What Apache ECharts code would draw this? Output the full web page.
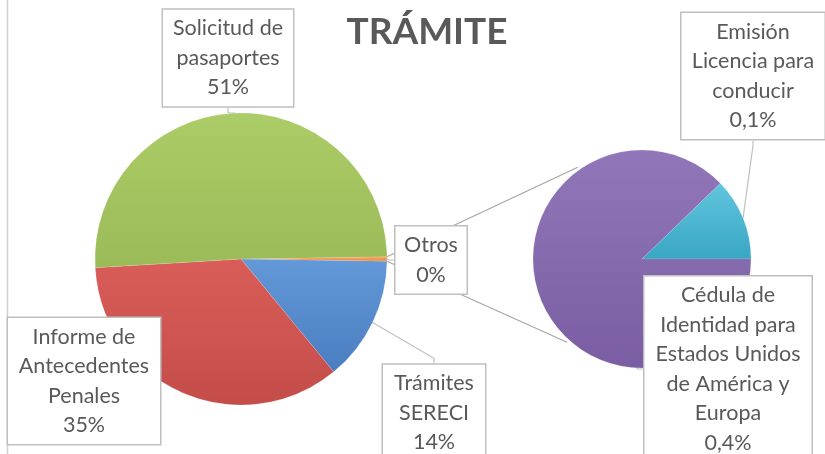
<!DOCTYPE html>
<html>
<head>
<meta charset="utf-8">
<script src="https://cdn.jsdelivr.net/npm/echarts@6/dist/echarts.min.js"></script>
<style>
  html, body { margin: 0; padding: 0; background: #fff; }
  #chart { width: 825px; height: 454px; }
</style>
</head>
<body>
<div id="chart"></div>
<script>
// datos (porcentaje del total)
const mainNames = ['Otros', 'Trámites\nSERECI', 'Informe de\nAntecedentes\nPenales', 'Solicitud de\npasaportes']
const mainValues = [null, 13.81, 35.0, 50.7]   // Otros = suma del segundo pastel
const subNames = ['Emisión\nLicencia para\nconducir', 'Cédula de\nIdentidad para\nEstados Unidos\nde América y\nEuropa']
const subValues = [0.06, 0.43]

const otros = subValues.reduce((a, b) => a + b, 0)
mainValues[0] = otros
const total = mainValues.reduce((a, b) => a + b, 0)

// geometría
const mainC = [241, 259], mainR = 146
const subC = [642, 259], subR = 109

const mainColors = ['#f08a3a', '#4a7dc0', '#c44d49', '#9bbb59']
const mainLight = ['#fba364', '#6399d8', '#d95d59', '#accc67']
const subColors = ['#38a6c4', '#7a5da2']
const subLight = ['#62c6de', '#9177ba']

// cajas de etiquetas: centro y ancho
const mainBoxes = [
    { x: 431, y: 260, w: 71 },
    { x: 434, y: 413, w: 102 },
    { x: 84, y: 381, w: 152 },
    { x: 228, y: 58, w: 130 }
]
const subBoxes = [
    { x: 753, y: 76, w: 143 },
    { x: 728, y: 369, w: 167 }
]

let grad = (c1, c2) => ({
    type: 'linear', x: 0, y: 0, x2: 0, y2: 1,
    colorStops: [{ offset: 0, color: c1 }, { offset: 1, color: c2 }]
})

let pct = (v) => Math.round(v / total * 100) + '%'
let pct1 = (v) => (v / total * 100).toFixed(1).replace('.', ',') + '%'

let labelBase = {
    show: true,
    position: 'outside',
    color: '#595959',
    fontFamily: 'Lato',
    fontSize: 21.5,
    lineHeight: 29.5,
    align: 'center',
    backgroundColor: '#fff',
    borderColor: '#bfbfbf',
    borderWidth: 1.5,
    padding: [4, 0, 4, 0]
}

let mainData = mainNames.map((n, i) => ({
    name: n,
    value: mainValues[i],
    itemStyle: { color: grad(mainLight[i], mainColors[i]) },
    label: { width: mainBoxes[i].w }
}))
let subData = subNames.map((n, i) => ({
    name: n,
    value: subValues[i],
    itemStyle: { color: grad(subLight[i], subColors[i]) },
    label: { width: subBoxes[i].w }
}))

// líneas de unión entre pasteles
let halfOtros = otros / total * 180
let rad = (d) => d * Math.PI / 180
let pt = (c, r, a) => [c[0] + r * Math.cos(rad(a)), c[1] - r * Math.sin(rad(a))]
let p1 = pt(mainC, mainR, halfOtros), p2 = pt(mainC, mainR, -halfOtros)
let q1 = pt(subC, subR + 3, 125), q2 = pt(subC, subR + 3, 228)

let option = {
    animation: false,
    title: {
        text: 'TRÁMITE',
        left: 422,
        top: 9,
        textAlign: 'center',
        textStyle: { fontFamily: 'Lato', fontWeight: 'bold', fontSize: 37, color: '#595959' }
    },
    graphic: [
        { type: 'line', z: 0, shape: { x1: 7.5, y1: 0, x2: 7.5, y2: 454 }, style: { stroke: '#d0d0d0', lineWidth: 1.5 } },
        { type: 'line', z: 0, shape: { x1: p1[0], y1: p1[1], x2: q1[0], y2: q1[1] }, style: { stroke: '#a6a6a6', lineWidth: 1.2 } },
        { type: 'line', z: 0, shape: { x1: p2[0], y1: p2[1], x2: q2[0], y2: q2[1] }, style: { stroke: '#a6a6a6', lineWidth: 1.2 } }
    ],
    series: [
        {
            type: 'pie',
            center: mainC,
            radius: mainR,
            startAngle: halfOtros,
            clockwise: true,
            minAngle: 0,
            avoidLabelOverlap: false,
            itemStyle: { borderColor: 'rgba(255,255,255,0.25)', borderWidth: 0.5 },
            label: Object.assign({}, labelBase, {
                formatter: (p) => p.name + '\n' + pct(p.value)
            }),
            labelLine: { show: true, length: 5, length2: 5, lineStyle: { color: '#bfbfbf', width: 1.2 } },
            labelLayout: (p) => {
                let b = mainBoxes[p.dataIndex]
                return { x: b.x, y: b.y, align: 'center', verticalAlign: 'middle' }
            },
            data: mainData
        },
        {
            type: 'pie',
            center: subC,
            radius: subR,
            startAngle: subValues[0] / otros * 360,
            clockwise: true,
            avoidLabelOverlap: false,
            itemStyle: { borderColor: 'rgba(255,255,255,0.25)', borderWidth: 0.5 },
            label: Object.assign({}, labelBase, {
                formatter: (p) => p.name + '\n' + pct1(p.value)
            }),
            labelLine: { show: true, length: 5, length2: 5, lineStyle: { color: '#bfbfbf', width: 1.2 } },
            labelLayout: (p) => {
                let b = subBoxes[p.dataIndex]
                return { x: b.x, y: b.y, align: 'center', verticalAlign: 'middle' }
            },
            data: subData
        }
    ]
}

let chart = echarts.init(document.getElementById('chart'))
chart.setOption(option)
</script>
</body>
</html>
